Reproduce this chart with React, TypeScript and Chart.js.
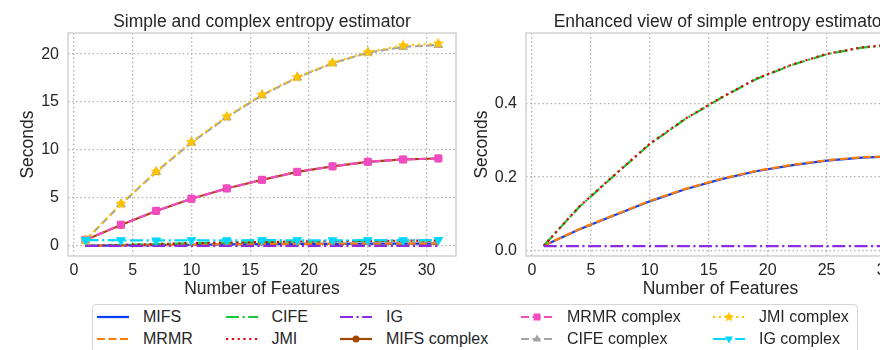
import React, { useEffect, useRef } from "react";
import { Chart, registerables } from "chart.js";

Chart.register(...registerables);

// ---------------- data ----------------
const features = [1, 4, 7, 10, 13, 16, 19, 22, 25, 28, 31];

const mifs = [0.013, 0.057, 0.096, 0.134, 0.167, 0.194, 0.216, 0.232, 0.245, 0.253, 0.257];
const mrmr = [0.013, 0.058, 0.097, 0.135, 0.168, 0.195, 0.217, 0.233, 0.246, 0.254, 0.258];
const cife = [0.013, 0.118, 0.205, 0.29, 0.358, 0.415, 0.467, 0.505, 0.535, 0.553, 0.562];
const jmi = [0.013, 0.119, 0.206, 0.291, 0.359, 0.416, 0.468, 0.506, 0.536, 0.554, 0.563];
const ig = [0.012, 0.012, 0.012, 0.012, 0.012, 0.012, 0.012, 0.012, 0.012, 0.012, 0.012];

const mifsComplex = [0.62, 2.2, 3.65, 4.92, 6.0, 6.9, 7.72, 8.3, 8.77, 9.02, 9.12];
const mrmrComplex = [0.65, 2.22, 3.67, 4.93, 6.0, 6.9, 7.73, 8.3, 8.78, 9.02, 9.13];
const cifeComplex = [0.6, 4.35, 7.72, 10.78, 13.4, 15.72, 17.55, 19.05, 20.15, 20.75, 20.95];
const jmiComplex = [0.6, 4.4, 7.76, 10.84, 13.5, 15.77, 17.6, 19.1, 20.2, 20.9, 21.1];
const igComplex = [0.62, 0.6, 0.58, 0.6, 0.59, 0.61, 0.6, 0.59, 0.61, 0.6, 0.62];

const xTicks = [0, 5, 10, 15, 20, 25, 30];
const leftYTicks = [0, 5, 10, 15, 20];
const rightYTicks = [0, 0.2, 0.4];

const leftTitle = "Simple and complex entropy estimator";
const rightTitle = "Enhanced view of simple entropy estimator";
const xLabel = "Number of Features";
const yLabel = "Seconds";

// ---------------- styles ----------------
const FONT = '"Liberation Sans", Arial, Helvetica, sans-serif';
const TEXT = "#262626";
const GRID = "#b0b0b0";
const SPINE = "#d2d2d2";
const LW = 2.2;

const SOLID: number[] = [];
const DASH = [8, 3.5];
const DASHDOT = [13, 3.5, 2.2, 3.5];
const DOT = [2.2, 3.6];

type Series = {
  label: string;
  data: number[];
  color: string;
  dash: number[];
  marker: null | "circle" | "square" | "triangle" | "triangleDown" | "star";
};

const simpleSeries: Series[] = [
  { label: "MIFS", data: mifs, color: "#023eff", dash: SOLID, marker: null },
  { label: "MRMR", data: mrmr, color: "#ff7c00", dash: DASH, marker: null },
  { label: "CIFE", data: cife, color: "#1ac938", dash: DASHDOT, marker: null },
  { label: "JMI", data: jmi, color: "#e8000b", dash: DOT, marker: null },
  { label: "IG", data: ig, color: "#8b2be2", dash: DASHDOT, marker: null },
];

const complexSeries: Series[] = [
  { label: "MIFS complex", data: mifsComplex, color: "#9f4800", dash: SOLID, marker: "circle" },
  { label: "MRMR complex", data: mrmrComplex, color: "#f14cc1", dash: DASH, marker: "square" },
  { label: "CIFE complex", data: cifeComplex, color: "#a3a3a3", dash: DASH, marker: "triangle" },
  { label: "JMI complex", data: jmiComplex, color: "#ffc400", dash: DOT, marker: "star" },
  { label: "IG complex", data: igComplex, color: "#00d7ff", dash: DASHDOT, marker: "triangleDown" },
];

// legend layout: column-major, 2 rows x 5 columns
const legendOrder: Series[] = [...simpleSeries, ...complexSeries];
const legendColX = [143, 271.5, 386, 567, 759];
const legendRowY = [316.5, 339];

function makeStar(color: string, size: number) {
  const c = document.createElement("canvas");
  c.width = size;
  c.height = size;
  const ctx = c.getContext("2d")!;
  const cx = size / 2, cy = size / 2, R = size / 2, r = R * 0.45;
  ctx.beginPath();
  for (let i = 0; i < 10; i++) {
    const ang = -Math.PI / 2 + (i * Math.PI) / 5;
    const rad = i % 2 ? r : R;
    ctx.lineTo(cx + rad * Math.cos(ang), cy + rad * Math.sin(ang));
  }
  ctx.closePath();
  ctx.fillStyle = color;
  ctx.fill();
  return c;
}

function toDataset(s: Series) {
  let pointStyle: any = "circle";
  let radius = 0;
  let rotation = 0;
  if (s.marker === "circle") { pointStyle = "circle"; radius = 3.5; }
  if (s.marker === "square") { pointStyle = "rect"; radius = 5; }
  if (s.marker === "triangle") { pointStyle = "triangle"; radius = 5; }
  if (s.marker === "triangleDown") { pointStyle = "triangle"; radius = 5; rotation = 180; }
  if (s.marker === "star") { pointStyle = makeStar(s.color, 12); radius = 5; }
  return {
    label: s.label,
    data: features.map((x, i) => ({ x, y: s.data[i] })),
    borderColor: s.color,
    backgroundColor: s.color,
    borderWidth: LW,
    borderDash: s.dash,
    borderCapStyle: "butt",
    tension: 0,
    fill: false,
    pointStyle,
    pointRadius: radius,
    pointRotation: rotation,
    pointBorderWidth: s.marker ? 1 : 0,
    pointBorderColor: s.color,
    pointBackgroundColor: s.color,
  };
}

const framePlugin = {
  id: "frame",
  beforeDatasetsDraw(chart: any) {
    const { ctx, chartArea: a } = chart;
    ctx.save();
    ctx.strokeStyle = SPINE;
    ctx.lineWidth = 1.5;
    ctx.strokeRect(a.left, a.top, a.right - a.left, a.bottom - a.top);
    ctx.restore();
  },
};

function makeOptions(
  title: string,
  yMin: number,
  yMax: number,
  yTicks: number[],
  yFmt: (v: number) => string,
  yAxisWidth: number,
  yTitlePad: number,
  padRight: number
) {
  return {
    responsive: false,
    maintainAspectRatio: false,
    animation: false,
    events: [],
    layout: { padding: { left: 0, right: padRight, top: 0, bottom: 0 } },
    plugins: {
      legend: { display: false },
      tooltip: { enabled: false },
      title: {
        display: true,
        fullSize: false,
        text: title,
        color: TEXT,
        font: { family: FONT, size: 17.5, weight: "normal" },
        padding: { top: 12, bottom: 0 },
      },
    },
    scales: {
      x: {
        type: "linear",
        min: -0.5,
        max: 32.5,
        afterBuildTicks: (s: any) => {
          s.ticks = xTicks.map((v) => ({ value: v }));
        },
        afterFit: (s: any) => {
          s.height = 44;
        },
        ticks: {
          color: TEXT,
          font: { family: FONT, size: 16 },
          padding: 5,
          maxRotation: 0,
          autoSkip: false,
          callback: (v: any) => String(v),
        },
        grid: { color: GRID, lineWidth: 1.3, drawTicks: false },
        border: { display: false, dash: [1.5, 2.6] },
        title: {
          display: true,
          text: xLabel,
          color: TEXT,
          font: { family: FONT, size: 17.5 },
          padding: { top: 0, bottom: 0 },
        },
      },
      y: {
        type: "linear",
        min: yMin,
        max: yMax,
        afterBuildTicks: (s: any) => {
          s.ticks = yTicks.map((v) => ({ value: v }));
        },
        afterFit: (s: any) => {
          s.width = yAxisWidth;
        },
        ticks: {
          color: TEXT,
          font: { family: FONT, size: 16 },
          padding: 9,
          autoSkip: false,
          callback: (v: any) => yFmt(Number(v)),
        },
        grid: { color: GRID, lineWidth: 1.3, drawTicks: false },
        border: { display: false, dash: [1.5, 2.6] },
        title: {
          display: true,
          text: yLabel,
          color: TEXT,
          font: { family: FONT, size: 17.5 },
          padding: { top: yTitlePad, bottom: 0 },
        },
      },
    },
  };
}

function LegendSample({ s }: { s: Series }) {
  const cx = 16, cy = 8;
  let marker: any = null;
  if (s.marker === "circle") marker = <circle cx={cx} cy={cy} r={3.5} fill={s.color} />;
  if (s.marker === "square") marker = <rect x={cx - 3.5} y={cy - 3.5} width={7} height={7} fill={s.color} />;
  if (s.marker === "triangle")
    marker = <polygon points={`${cx},${cy - 4.5} ${cx + 4},${cy + 2.5} ${cx - 4},${cy + 2.5}`} fill={s.color} />;
  if (s.marker === "triangleDown")
    marker = <polygon points={`${cx},${cy + 4.5} ${cx + 4},${cy - 2.5} ${cx - 4},${cy - 2.5}`} fill={s.color} />;
  if (s.marker === "star") {
    const pts: string[] = [];
    for (let i = 0; i < 10; i++) {
      const ang = -Math.PI / 2 + (i * Math.PI) / 5;
      const rad = i % 2 ? 2.4 : 5.2;
      pts.push(`${cx + rad * Math.cos(ang)},${cy + rad * Math.sin(ang)}`);
    }
    marker = <polygon points={pts.join(" ")} fill={s.color} />;
  }
  return (
    <svg width={32} height={16} style={{ display: "block" }}>
      <line
        x1={0}
        y1={cy}
        x2={32}
        y2={cy}
        stroke={s.color}
        strokeWidth={LW}
        strokeDasharray={s.dash.length ? s.dash.join(" ") : undefined}
      />
      {marker}
    </svg>
  );
}

export default function App() {
  const leftRef = useRef<HTMLCanvasElement | null>(null);
  const rightRef = useRef<HTMLCanvasElement | null>(null);

  useEffect(() => {
    Chart.defaults.font.family = FONT;
    const allSeries = [...simpleSeries, ...complexSeries];
    const left = new Chart(leftRef.current!, {
      type: "line",
      data: { datasets: allSeries.map(toDataset).reverse() as any },
      options: makeOptions(leftTitle, -1.04, 22.2, leftYTicks, (v) => String(v), 68, 18, 68) as any,
      plugins: [framePlugin],
    });
    const right = new Chart(rightRef.current!, {
      type: "line",
      data: { datasets: simpleSeries.map(toDataset).reverse() as any },
      options: makeOptions(rightTitle, -0.015, 0.593, rightYTicks, (v) => v.toFixed(1), 72, 17.5, 72) as any,
      plugins: [framePlugin],
    });
    return () => {
      left.destroy();
      right.destroy();
    };
  }, []);

  return (
    <div
      style={{
        position: "absolute",
        left: 0,
        top: 0,
        width: 880,
        height: 350,
        overflow: "hidden",
        background: "#ffffff",
        fontFamily: FONT,
      }}
    >
      <canvas
        ref={leftRef}
        width={524}
        height={300}
        style={{ position: "absolute", left: 0, top: 0, width: 524, height: 300 }}
      />
      <canvas
        ref={rightRef}
        width={533}
        height={300}
        style={{ position: "absolute", left: 454, top: 0, width: 533, height: 300 }}
      />
      <div
        style={{
          position: "absolute",
          left: 91.5,
          top: 303.5,
          width: 766,
          height: 70,
          border: "1.3px solid #d5d5d5",
          borderRadius: 4,
          background: "#fff",
          boxSizing: "border-box",
        }}
      />
      {legendOrder.map((s, i) => {
        const col = Math.floor(i / 2);
        const row = i % 2;
        const tx = legendColX[col];
        const ty = legendRowY[row];
        return (
          <React.Fragment key={s.label}>
            <div style={{ position: "absolute", left: tx - 46, top: ty - 8 }}>
              <LegendSample s={s} />
            </div>
            <div
              style={{
                position: "absolute",
                left: tx,
                top: ty - 10,
                height: 20,
                lineHeight: "20px",
                fontSize: 16,
                color: TEXT,
                whiteSpace: "nowrap",
              }}
            >
              {s.label}
            </div>
          </React.Fragment>
        );
      })}
    </div>
  );
}
